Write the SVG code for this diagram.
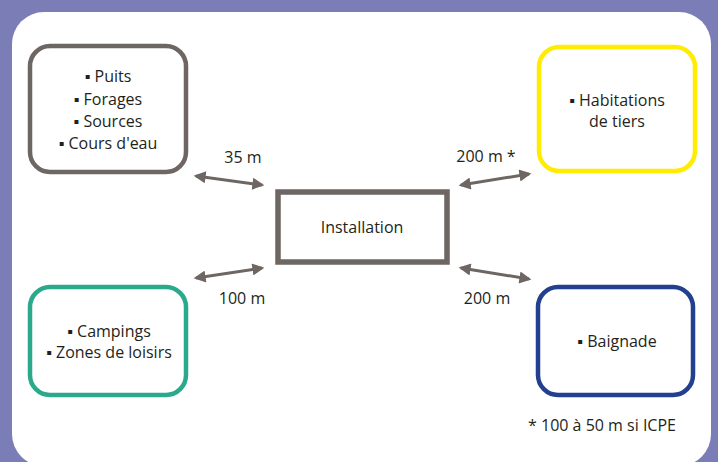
<svg xmlns="http://www.w3.org/2000/svg" width="718" height="462" viewBox="0 0 718 462">
<defs>
<style>
.t{font-family:"Open Sans","Liberation Sans",sans-serif;font-size:16px;fill:#231f20;text-anchor:middle}
.box{fill:#fff;stroke-width:4.5}
.arr{stroke:#6d6662;stroke-width:3;fill:none;marker-start:url(#ah);marker-end:url(#ah)}
</style>
<marker id="ah" viewBox="0 0 10 10" refX="8" refY="5" markerWidth="4.2" markerHeight="4" orient="auto-start-reverse" markerUnits="strokeWidth">
<path d="M0,0 L10,5 L0,10 Z" fill="#6d6662"/>
</marker>
</defs>
<rect width="718" height="462" fill="#7b7db6"/>
<rect x="12" y="12" width="699" height="454" rx="32" fill="#fff"/>
<g id="eau">
<rect class="box" x="30" y="46" width="156" height="126" rx="20" stroke="#6d6662"/>
<text class="t" x="108" y="82">▪ Puits</text>
<text class="t" x="108" y="105">▪ Forages</text>
<text class="t" x="108" y="127">▪ Sources</text>
<text class="t" x="108" y="149">▪ Cours d'eau</text>
</g>
<g id="habitations">
<rect class="box" x="539" y="47" width="156" height="124" rx="20" stroke="#ffec00"/>
<text class="t" x="617" y="106">▪ Habitations</text>
<text class="t" x="617" y="127">de tiers</text>
</g>
<g id="installation">
<rect x="278" y="192" width="169" height="70" fill="#fff" stroke="#6d6662" stroke-width="5.5"/>
<text class="t" x="362" y="233">Installation</text>
</g>
<g id="campings">
<rect class="box" x="30" y="287" width="156" height="108" rx="20" stroke="#2ba98c"/>
<text class="t" x="109" y="337">▪ Campings</text>
<text class="t" x="109" y="358">▪ Zones de loisirs</text>
</g>
<g id="baignade">
<rect class="box" x="538" y="287" width="155" height="108" rx="20" stroke="#233f8f"/>
<text class="t" x="617" y="347">▪ Baignade</text>
</g>
<g id="connectors">
<line class="arr" x1="196" y1="176" x2="262" y2="185"/>
<line class="arr" x1="461" y1="185" x2="529" y2="174"/>
<line class="arr" x1="196" y1="278" x2="262" y2="268"/>
<line class="arr" x1="461" y1="268" x2="529" y2="279"/>
<text class="t" x="243" y="163">35 m</text>
<text class="t" x="486" y="162">200 m *</text>
<text class="t" x="242" y="304">100 m</text>
<text class="t" x="487" y="304">200 m</text>
</g>
<text class="t" x="602" y="431">* 100 à 50 m si ICPE</text>
</svg>
